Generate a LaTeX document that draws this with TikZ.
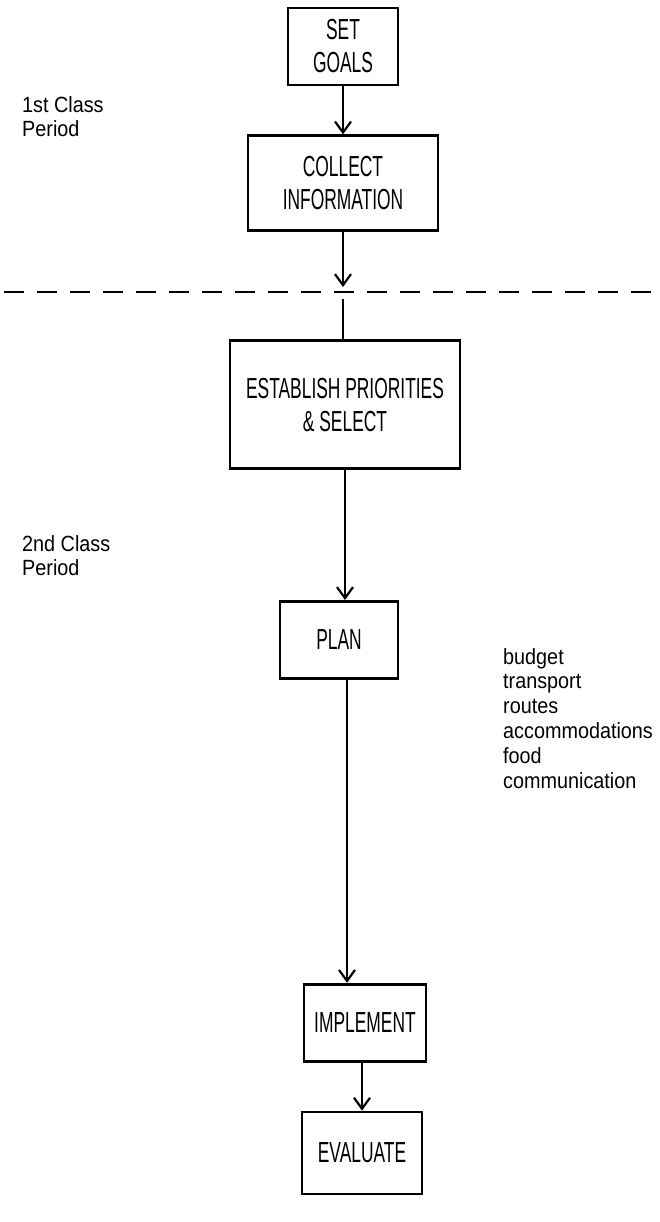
\documentclass[tikz,border=0pt]{standalone}
\usepackage{fontspec}
\setmainfont{Liberation Sans}[FakeStretch=0.6]
\newfontfamily\notefont{Liberation Sans}[FakeStretch=0.9]
\usepackage{tikz}
\usetikzlibrary{positioning, arrows.meta}

\begin{document}
\begin{tikzpicture}[
    x=1pt, y=1pt,
    node distance=48pt,
    box/.style={rectangle, draw, line width=2.8pt, inner sep=0pt, align=center,
        font=\fontsize{29}{33}\selectfont},
    arrow/.style={-{Straight Barb[length=11pt, width=16pt, line width=2.2pt]}, line width=2pt},
    link/.style={line width=2pt},
    note/.style={align=left, inner sep=0pt, font=\notefont\fontsize{22}{24.8}\selectfont}
]
\useasboundingbox (0,0) rectangle (660,-1222);

% First class period
\node[box, minimum width=110pt, minimum height=77pt] (goals) at (343,-46.5) {SET\\GOALS};
\node[box, minimum width=190pt, minimum height=95pt, below=48pt of goals] (collect) {COLLECT\\INFORMATION};

% Period break
\coordinate (breakL) at (4,-292);
\coordinate (breakR) at (660,-292);
\draw[line width=2.8pt, dash pattern=on 20pt off 13pt] (breakL) -- (breakR);
\coordinate (cutin) at (343,-287);
\coordinate (cutout) at (343,-299);

% Second class period
\node[box, minimum width=230pt, minimum height=128pt, below=107pt of collect, xshift=2pt] (prior) {ESTABLISH PRIORITIES\\\& SELECT};
\node[box, minimum width=118pt, minimum height=77pt, below=130pt of prior, xshift=-6pt] (plan) {PLAN};
\node[box, minimum width=122pt, minimum height=77pt, below=303pt of plan, xshift=26pt] (impl) {IMPLEMENT};
\node[box, minimum width=120pt, minimum height=82pt, below=48pt of impl, xshift=-3pt] (eval) {EVALUATE};

% Arrows
\draw[arrow] (goals) -- (goals.south |- collect.north);
\draw[arrow] (collect) -- (collect.south |- cutin);
\draw[link] (cutout) -- (cutout |- prior.north);
\draw[arrow] (prior) -- (prior.south |- plan.north);
\draw[arrow] (plan.south) ++(8pt,0) coordinate (plandown) -- (plandown |- impl.north);
\draw[arrow] (impl.south) ++(-3pt,0) coordinate (impldown) -- (impldown |- eval.north);

% Side labels
\node[note, anchor=north west] (first) at (22,-96) {1st Class\\Period};
\node[note, anchor=north west] (second) at (22,-535) {2nd Class\\Period};
\node[note, anchor=north west] (tasks) at (503,-648) {budget\\transport\\routes\\accommodations\\food\\communication};

\end{tikzpicture}
\end{document}
